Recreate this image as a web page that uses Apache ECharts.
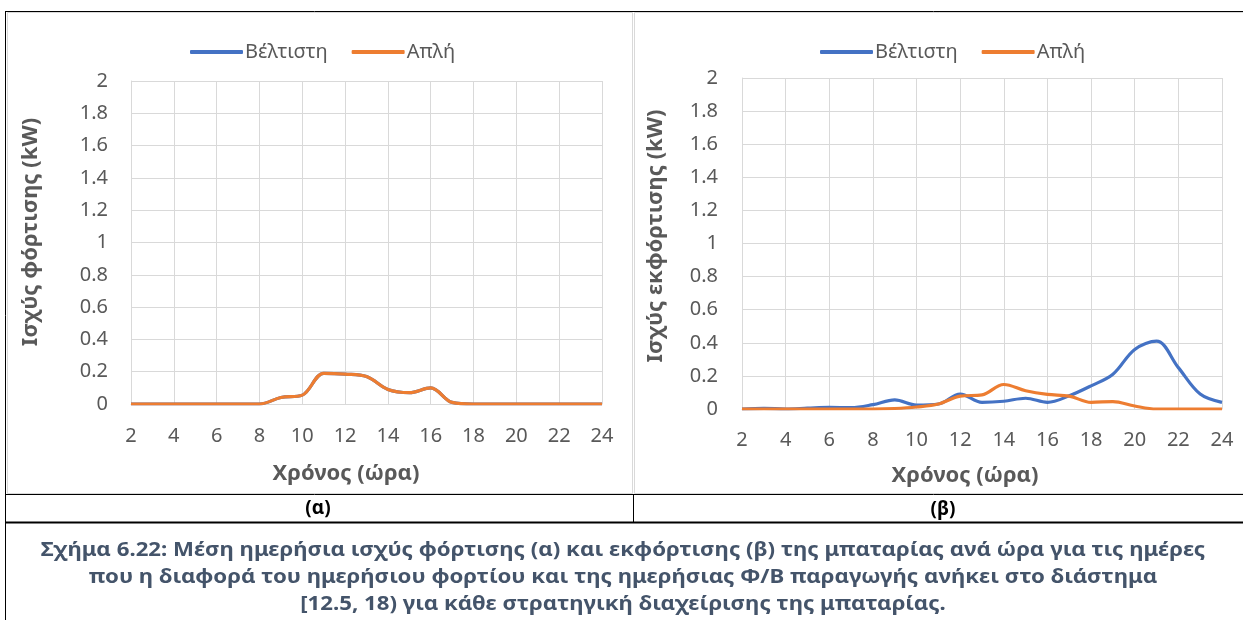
<!DOCTYPE html>
<html>
<head>
<meta charset="utf-8">
<script src="https://cdn.jsdelivr.net/npm/echarts@6/dist/echarts.min.js"></script>
<style>
html,body{margin:0;padding:0;background:#fff;}
#c{width:1243px;height:620px;}
</style>
</head>
<body>
<div id="c"></div>
<script>
// ---- data ----
const hours = [2,3,4,5,6,7,8,9,10,11,12,13,14,15,16,17,18,19,20,21,22,23,24];
const seriesNames = ['Βέλτιστη', 'Απλή'];
// (α) charging power (kW)
const chargeOptimal = [0,0,0,0,0,0,0,0.04,0.055,0.19,0.185,0.17,0.09,0.07,0.10,0.01,0,0,0,0,0,0,0];
const chargeSimple  = [0,0,0,0,0,0,0,0.04,0.055,0.19,0.185,0.17,0.09,0.07,0.10,0.01,0,0,0,0,0,0,0];
// (β) discharging power (kW)
const dischargeOptimal = [0,0.004,0,0.005,0.01,0.008,0.026,0.055,0.024,0.03,0.09,0.04,0.047,0.065,0.04,0.08,0.14,0.21,0.36,0.41,0.25,0.09,0.04];
const dischargeSimple  = [0,0,0,0,0,0,0,0.003,0.012,0.03,0.078,0.085,0.148,0.11,0.088,0.078,0.04,0.045,0.018,0,0,0,0];
const xTitle = 'Χρόνος (ώρα)';
const yTitles = ['Ισχύς φόρτισης (kW)', 'Ισχύς εκφόρτισης (kW)'];
const panelLabels = ['(α)', '(β)'];
const captionLines = [
  'Σχήμα 6.22: Μέση ημερήσια ισχύς φόρτισης (α) και εκφόρτισης (β) της μπαταρίας ανά ώρα για τις ημέρες',
  'που η διαφορά του ημερήσιου φορτίου και της ημερήσιας Φ/Β παραγωγής ανήκει στο διάστημα',
  '[12.5, 18) για κάθε στρατηγική διαχείρισης της μπαταρίας.'
];

const FONT = 'Noto Sans';
const GRAY = '#595959';
const GRID = '#D9D9D9';
const BLUE = '#4472C4';
const ORANGE = '#ED7D31';
const CAP = '#44546A';

const pairs = arr => hours.map((h, i) => [h, arr[i]]);

function xAxis(gi, margin){
  return {
    type:'value', gridIndex:gi, min:2, max:24, interval:2,
    axisLine:{show:true, lineStyle:{color:GRID, width:1}},
    axisTick:{show:false},
    axisLabel:{color:GRAY, fontFamily:FONT, fontSize:20, margin:margin},
    splitLine:{show:true, lineStyle:{color:GRID, width:1}}
  };
}
function yAxis(gi, margin){
  return {
    type:'value', gridIndex:gi, min:0, max:2, interval:0.2,
    axisLine:{show:true, lineStyle:{color:GRID, width:1}},
    axisTick:{show:false},
    axisLabel:{color:GRAY, fontFamily:FONT, fontSize:20, margin:margin,
      formatter: v => String(Math.round(v*10)/10)},
    splitLine:{show:true, lineStyle:{color:GRID, width:1}}
  };
}
function line(name, gi, arr, color){
  return {
    name, type:'line', xAxisIndex:gi, yAxisIndex:gi,
    data: pairs(arr), smooth:0.35, showSymbol:false, symbol:'none',
    lineStyle:{color, width:3.2}, itemStyle:{color}, animation:false
  };
}
function txt(text, x, y, font, fill, sx, rot){
  return {type:'text', x, y, rotation:rot||0, scaleX:sx||1, silent:true,
    style:{text, fill, font, textAlign:'center', textVerticalAlign:'middle'}};
}

const chart = echarts.init(document.getElementById('c'), null, {renderer:'canvas'});
const legendCommon = {
  data: seriesNames, icon:'roundRect', itemWidth:53, itemHeight:4, itemGap:24,
  textStyle:{color:GRAY, fontFamily:FONT, fontSize:20, padding:[0,0,0,-3]}
};

chart.setOption({
  animation:false,
  backgroundColor:'#fff',
  legend:[
    Object.assign({left:185, top:37}, legendCommon),
    Object.assign({left:815, top:37}, legendCommon)
  ],
  grid:[
    {left:131, top:81, width:471, height:323},
    {left:742, top:78, width:480, height:331}
  ],
  xAxis:[xAxis(0, 22), xAxis(1, 21)],
  yAxis:[yAxis(0, 23), yAxis(1, 24)],
  series:[
    line(seriesNames[0], 0, chargeOptimal, BLUE),
    line(seriesNames[1], 0, chargeSimple, ORANGE),
    line(seriesNames[0], 1, dischargeOptimal, BLUE),
    line(seriesNames[1], 1, dischargeSimple, ORANGE)
  ],
  graphic:[
    // chart area borders (light gray)
    {type:'rect', silent:true, shape:{x:7.5, y:12.5, width:625, height:481}, style:{fill:null, stroke:GRID, lineWidth:1}},
    {type:'rect', silent:true, shape:{x:634.5, y:12.5, width:620, height:481}, style:{fill:null, stroke:GRID, lineWidth:1}},
    // table lines (black)
    {type:'line', silent:true, shape:{x1:5, y1:11.5, x2:1243, y2:11.5}, style:{stroke:'#000', lineWidth:1}},
    {type:'line', silent:true, shape:{x1:5.5, y1:11, x2:5.5, y2:620}, style:{stroke:'#000', lineWidth:1}},
    {type:'line', silent:true, shape:{x1:5, y1:494.5, x2:1243, y2:494.5}, style:{stroke:'#000', lineWidth:1}},
    {type:'line', silent:true, shape:{x1:633.5, y1:494, x2:633.5, y2:522}, style:{stroke:'#000', lineWidth:1}},
    {type:'line', silent:true, shape:{x1:5, y1:522.5, x2:1243, y2:522.5}, style:{stroke:'#000', lineWidth:2}},
    // axis titles
    txt(xTitle, 346, 474, 'bold 22px "Noto Sans"', GRAY, 1.0),
    txt(xTitle, 965, 476, 'bold 22px "Noto Sans"', GRAY, 1.0),
    txt(yTitles[0], 31, 232, 'bold 22px "Noto Sans"', GRAY, 1, Math.PI/2),
    txt(yTitles[1], 656, 236, 'bold 22px "Noto Sans"', GRAY, 1, Math.PI/2),
    // panel labels
    txt(panelLabels[0], 318, 509, 'bold 19px "Noto Sans"', '#000', 1.0),
    txt(panelLabels[1], 943, 510, 'bold 19px "Noto Sans"', '#000', 1.0),
    // caption
    txt(captionLines[0], 623, 550, 'bold 20px "Noto Sans"', CAP, 1.11),
    txt(captionLines[1], 623, 577, 'bold 20px "Noto Sans"', CAP, 1.11),
    txt(captionLines[2], 623, 604, 'bold 20px "Noto Sans"', CAP, 1.11)
  ]
});
</script>
</body>
</html>
